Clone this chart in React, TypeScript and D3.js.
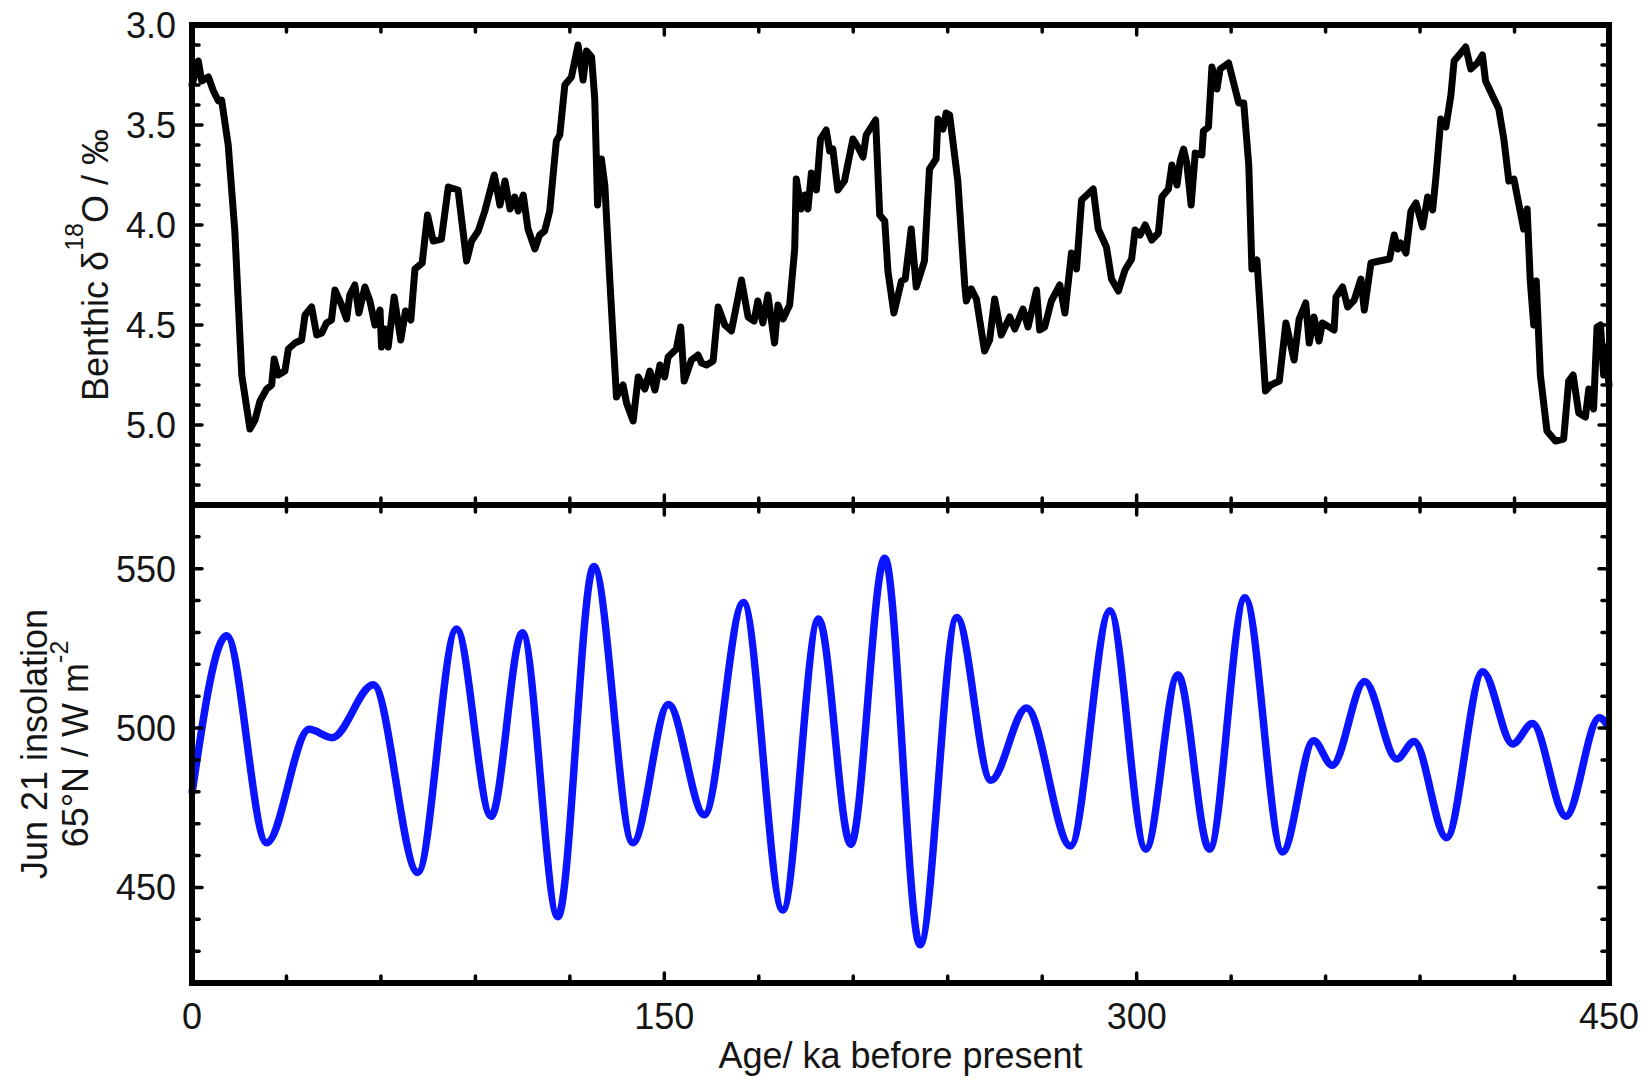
import React from "react";
import * as d3 from "d3";

// ---------- Data ----------
// Benthic d18O (per mil) vs age (ka BP)
const benthicAge = [
  0, 2.0, 3.1, 5.2, 6.8, 8.4, 9.4, 11.5, 13.6, 15.8, 18.4, 20.0, 21.6, 23.7, 25.3, 26.1, 27.4, 29.5, 30.6, 32.7,
  34.8, 35.9, 38.0, 39.6, 41.2, 42.7, 44.3, 45.4, 47.5, 49.1, 50.1, 51.7, 53.0, 54.9, 56.5, 58.1, 59.7, 60.2, 61.3, 62.3,
  64.2, 66.3, 67.8, 69.5, 70.8, 73.1, 74.8, 76.6, 79.2, 81.4, 84.5, 87.2, 88.8, 90.9, 93.0, 96.0, 97.8, 99.4, 101.0, 102.5,
  103.6, 105.2, 106.7, 108.9, 110.4, 112.0, 113.6, 115.7, 116.8, 118.4, 120.5, 122.6, 124.2, 125.3, 126.9, 127.9, 128.8, 130.0, 131.1, 132.7,
  134.8, 136.9, 138.0, 140.1, 141.7, 143.8, 145.4, 147.0, 148.6, 150.1, 151.2, 153.8, 155.2, 156.3, 158.6, 160.7, 161.8, 163.4, 165.5, 167.1,
  169.2, 171.3, 174.5, 176.6, 178.5, 179.7, 181.3, 182.9, 185.0, 186.1, 187.7, 189.8, 191.4, 191.9, 193.5, 194.6, 195.6, 196.7, 198.3, 199.6,
  201.4, 202.5, 203.5, 205.1, 207.2, 209.9, 211.5, 213.1, 214.1, 217.1, 218.4, 220.0, 221.0, 222.9, 225.3, 226.5, 228.4, 230.0, 232.6, 234.2,
  236.3, 236.9, 238.5, 239.5, 240.6, 243.2, 245.4, 245.9, 247.5, 249.1, 251.7, 253.3, 254.9, 257.0, 259.7, 261.3, 263.9, 265.5, 268.2, 269.2,
  270.8, 272.9, 275.6, 277.2, 279.3, 280.9, 282.5, 286.2, 287.8, 290.4, 292.0, 294.2, 296.3, 298.4, 299.5, 301.1, 302.7, 304.8, 306.9, 308.0,
  310.1, 311.2, 312.8, 313.8, 314.9, 315.9, 317.3, 318.6, 320.7, 321.2, 322.8, 323.9, 325.5, 326.5, 329.2, 330.8, 332.4, 334.0, 335.6, 336.6,
  338.2, 340.9, 342.6, 345.3, 347.4, 350.0, 351.6, 353.7, 354.8, 356.3, 357.9, 359.0, 362.7, 363.3, 365.4, 367.0, 369.1, 371.2, 372.3, 374.4,
  377.1, 380.3, 381.8, 382.9, 383.9, 385.5, 387.1, 388.7, 390.8, 392.4, 394.0, 395.1, 396.6, 398.2, 399.8, 400.8, 402.4, 404.5, 406.1, 408.2,
  409.8, 410.8, 412.9, 415.0, 416.6, 418.2, 419.8, 422.9, 424.0, 425.0, 426.1, 426.9, 428.2, 430.3, 433.0, 435.6, 437.2, 438.6, 440.4, 442.5,
  443.6, 445.1, 446.2, 447.3, 448.3, 449.0, 450.0,
];
const benthicD18O = [
  3.30, 3.18, 3.28, 3.26, 3.33, 3.38, 3.375, 3.60, 4.03, 4.75, 5.02, 4.975, 4.88, 4.82, 4.80, 4.67, 4.75, 4.73, 4.62, 4.59,
  4.575, 4.45, 4.41, 4.55, 4.54, 4.49, 4.475, 4.325, 4.40, 4.47, 4.35, 4.30, 4.44, 4.31, 4.38, 4.50, 4.425, 4.61, 4.52, 4.61,
  4.36, 4.575, 4.43, 4.475, 4.22, 4.19, 3.95, 4.08, 4.07, 3.81, 3.825, 4.18, 4.08, 4.03, 3.93, 3.75, 3.90, 3.78, 3.92, 3.86,
  3.93, 3.85, 4.02, 4.12, 4.05, 4.03, 3.93, 3.58, 3.55, 3.30, 3.26, 3.10, 3.275, 3.13, 3.16, 3.37, 3.90, 3.67, 3.80, 4.28,
  4.86, 4.80, 4.89, 4.98, 4.76, 4.82, 4.73, 4.825, 4.70, 4.76, 4.66, 4.62, 4.51, 4.78, 4.675, 4.65, 4.69, 4.70, 4.68, 4.41,
  4.50, 4.53, 4.275, 4.46, 4.48, 4.38, 4.49, 4.35, 4.59, 4.40, 4.47, 4.40, 4.12, 3.77, 3.92, 3.85, 3.92, 3.74, 3.825, 3.57,
  3.525, 3.63, 3.62, 3.825, 3.78, 3.57, 3.61, 3.66, 3.55, 3.475, 3.95, 3.98, 4.23, 4.44, 4.28, 4.27, 4.02, 4.31, 4.18, 3.72,
  3.67, 3.47, 3.52, 3.44, 3.45, 3.78, 4.30, 4.38, 4.32, 4.37, 4.63, 4.575, 4.37, 4.55, 4.46, 4.52, 4.42, 4.51, 4.325, 4.525,
  4.51, 4.38, 4.30, 4.44, 4.14, 4.22, 3.875, 3.82, 4.02, 4.11, 4.27, 4.33, 4.225, 4.17, 4.025, 4.05, 4.00, 4.075, 4.04, 3.86,
  3.82, 3.70, 3.80, 3.68, 3.62, 3.69, 3.90, 3.64, 3.65, 3.53, 3.51, 3.21, 3.32, 3.22, 3.19, 3.29, 3.39, 3.39, 3.70, 4.22,
  4.175, 4.83, 4.80, 4.78, 4.49, 4.675, 4.47, 4.39, 4.59, 4.46, 4.58, 4.49, 4.525, 4.36, 4.31, 4.41, 4.375, 4.27, 4.425, 4.19,
  4.18, 4.17, 4.05, 4.12, 4.09, 4.14, 3.93, 3.89, 4.01, 3.86, 3.925, 3.75, 3.47, 3.51, 3.35, 3.18, 3.15, 3.11, 3.22, 3.19,
  3.15, 3.28, 3.35, 3.42, 3.57, 3.78, 3.77, 4.02, 3.92, 4.28, 4.50, 4.28, 4.75, 5.03, 5.08, 5.07, 4.78, 4.75, 4.94, 4.96,
  4.82, 4.92, 4.51, 4.50, 4.75, 4.62, 4.80,
];

// June 21 insolation at 65N (W m-2): turning points of the curve
const insolAge = [
  0, 11.0, 23.7, 37.2, 44.5, 57.6, 71.7, 84.0, 95.0, 104.9, 116.2, 127.6, 140.0, 151.3, 162.7, 175.1, 187.6, 199.0, 209.2, 220.0,
  231.2, 242.9, 253.7, 265.0, 279.0, 291.5, 302.9, 313.1, 323.1, 334.4, 346.3, 356.2, 362.1, 372.4, 382.6, 388.1, 398.4, 409.9, 419.4, 425.7,
  436.3, 446.9, 450.0,
];
const insolValue = [
  479.5, 529.0, 464.0, 499.6, 497.0, 513.6, 454.7, 531.1, 472.3, 529.9, 440.8, 550.7, 464.0, 507.4, 472.8, 539.4, 442.9, 534.2, 463.5, 553.3,
  432.0, 534.7, 483.6, 506.3, 463.0, 536.8, 462.0, 516.7, 462.0, 540.9, 461.1, 496.0, 488.3, 514.6, 490.3, 495.8, 465.6, 517.7, 495.0, 501.4,
  472.3, 503.2, 500.1,
];

// Ticks
const xTickLabels = [0, 150, 300, 450];
const xMinorTicks = [30, 60, 90, 120, 150, 180, 210, 240, 270, 300, 330, 360, 390, 420];
const topYTickLabels = [3.0, 3.5, 4.0, 4.5, 5.0];
const topYMinorTicks = [3.1, 3.2, 3.3, 3.4, 3.5, 3.6, 3.7, 3.8, 3.9, 4.0, 4.1, 4.2, 4.3, 4.4, 4.5, 4.6, 4.7, 4.8, 4.9, 5.0, 5.1, 5.2, 5.3];
const botYTickLabels = [450, 500, 550];
const botYMinorTicks = [430, 440, 450, 460, 470, 480, 490, 500, 510, 520, 530, 540, 550, 560];

// ---------- Layout ----------
const W = 1647;
const H = 1080;
const X0 = 192;
const X1 = 1609;
const TOP0 = 25;
const MID = 505;
const BOT1 = 983;
const FONT = "'Liberation Sans', Arial, Helvetica, sans-serif";
const TEXT = "#151515";

export default function App() {
  const x = d3.scaleLinear().domain([0, 450]).range([X0, X1]);
  const yTop = d3.scaleLinear().domain([3.0, 5.4]).range([TOP0, MID]);
  const yBot = d3.scaleLinear().domain([420, 570]).range([BOT1, MID]);

  const benthic = benthicAge.map((a, i) => [a, benthicD18O[i]] as [number, number]);
  const insol = insolAge.map((a, i) => [a, insolValue[i]] as [number, number]);

  const lineTop = d3
    .line<[number, number]>()
    .x((d) => x(d[0]))
    .y((d) => yTop(d[1]));
  const lineBot = d3
    .line<[number, number]>()
    .x((d) => x(d[0]))
    .y((d) => yBot(d[1]))
    .curve(d3.curveMonotoneX);

  const minorLen = 7;
  const majorLen = 10;
  const tickW = 3.5;

  const isMajorX = (v: number) => xTickLabels.includes(v);
  const isMajorTop = (v: number) => topYTickLabels.some((t) => Math.abs(t - v) < 1e-6);
  const isMajorBot = (v: number) => botYTickLabels.includes(v);

  const ticks: React.ReactNode[] = [];
  xMinorTicks.forEach((v, i) => {
    const len = isMajorX(v) ? majorLen : minorLen;
    const xv = x(v);
    ticks.push(<line key={`xt1-${i}`} x1={xv} x2={xv} y1={TOP0} y2={TOP0 + len} />);
    ticks.push(<line key={`xt2-${i}`} x1={xv} x2={xv} y1={MID} y2={MID - len} />);
    ticks.push(<line key={`xt3-${i}`} x1={xv} x2={xv} y1={MID} y2={MID + len} />);
    ticks.push(<line key={`xt4-${i}`} x1={xv} x2={xv} y1={BOT1} y2={BOT1 - len} />);
  });
  topYMinorTicks.forEach((v, i) => {
    const len = isMajorTop(v) ? majorLen : minorLen;
    const yv = yTop(v);
    ticks.push(<line key={`yt1-${i}`} x1={X0} x2={X0 + len} y1={yv} y2={yv} />);
    ticks.push(<line key={`yt2-${i}`} x1={X1} x2={X1 - len} y1={yv} y2={yv} />);
  });
  botYMinorTicks.forEach((v, i) => {
    const len = isMajorBot(v) ? majorLen : minorLen;
    const yv = yBot(v);
    ticks.push(<line key={`yb1-${i}`} x1={X0} x2={X0 + len} y1={yv} y2={yv} />);
    ticks.push(<line key={`yb2-${i}`} x1={X1} x2={X1 - len} y1={yv} y2={yv} />);
  });

  return (
    <svg
      width={W}
      height={H}
      viewBox={`0 0 ${W} ${H}`}
      style={{ position: "absolute", left: 0, top: 0, background: "#fff" }}
      fontFamily={FONT}
    >
      <rect x={0} y={0} width={W} height={H} fill="#fff" />

      {/* series */}
      <path
        d={lineTop(benthic) || ""}
        fill="none"
        stroke="#000"
        strokeWidth={7}
        strokeLinejoin="round"
        strokeLinecap="round"
      />
      <path
        d={lineBot(insol) || ""}
        fill="none"
        stroke="#0a14ff"
        strokeWidth={7.5}
        strokeLinejoin="round"
        strokeLinecap="butt"
      />

      {/* ticks */}
      <g stroke="#000" strokeWidth={tickW} strokeLinecap="round">
        {ticks}
      </g>

      {/* frames */}
      <rect x={X0} y={TOP0} width={X1 - X0} height={MID - TOP0} fill="none" stroke="#000" strokeWidth={6} />
      <rect x={X0} y={MID} width={X1 - X0} height={BOT1 - MID} fill="none" stroke="#000" strokeWidth={6} />

      {/* y tick labels */}
      <g fontSize={36} fill={TEXT} textAnchor="end">
        {topYTickLabels.map((v) => (
          <text key={`tl-${v}`} x={176} y={yTop(v)} dy="0.36em">
            {v.toFixed(1)}
          </text>
        ))}
        {botYTickLabels.map((v) => (
          <text key={`bl-${v}`} x={176} y={yBot(v)} dy="0.36em">
            {v}
          </text>
        ))}
      </g>

      {/* x tick labels */}
      <g fontSize={36} fill={TEXT} textAnchor="middle">
        {xTickLabels.map((v) => (
          <text key={`xl-${v}`} x={x(v)} y={1029}>
            {v}
          </text>
        ))}
      </g>

      {/* axis titles */}
      <text x={(X0 + X1) / 2} y={1068} fontSize={36} fill={TEXT} textAnchor="middle">
        Age/ ka before present
      </text>
      <text
        transform={`translate(108, ${(TOP0 + MID) / 2}) rotate(-90)`}
        fontSize={36}
        fill={TEXT}
        textAnchor="middle"
      >
        Benthic δ
        <tspan dy={-25} fontSize={25}>
          18
        </tspan>
        <tspan dy={25}>O / ‰</tspan>
      </text>
      <text
        transform={`translate(47, ${(MID + BOT1) / 2}) rotate(-90)`}
        fontSize={36}
        fill={TEXT}
        textAnchor="middle"
      >
        Jun 21 insolation
      </text>
      <text
        transform={`translate(88, ${(MID + BOT1) / 2}) rotate(-90)`}
        fontSize={36}
        fill={TEXT}
        textAnchor="middle"
      >
        65°N / W m
        <tspan dy={-20} fontSize={25}>
          -2
        </tspan>
      </text>
    </svg>
  );
}
